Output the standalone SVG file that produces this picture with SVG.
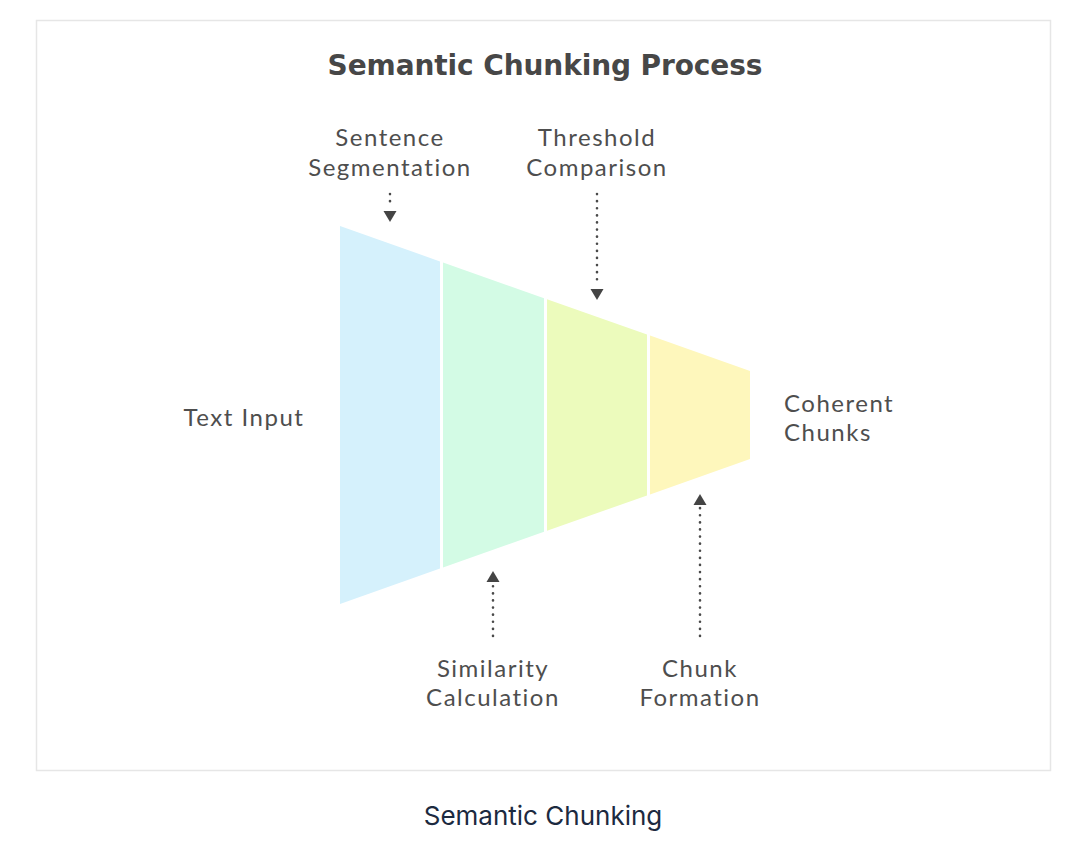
<svg xmlns="http://www.w3.org/2000/svg" width="1080" height="845" viewBox="0 0 1080 845">
<style>
.lbl{font-family:"Lato","Open Sans",sans-serif;font-size:24px;letter-spacing:1.5px;fill:#4e4e4e;}
.c{text-anchor:middle;}
.title{font-family:"DejaVu Sans",sans-serif;font-size:28px;font-weight:bold;letter-spacing:-0.1px;fill:#474747;text-anchor:middle;}
.cap{font-family:"Inter","Lato",sans-serif;font-size:26px;fill:#1c2a40;text-anchor:middle;}
.dot{stroke:#4a4a4a;stroke-width:2.6;stroke-dasharray:0.1 7;stroke-linecap:round;fill:none;}
.ah{fill:#444;}
</style>
<rect x="0" y="0" width="1080" height="845" fill="#ffffff"/>
<rect x="36.5" y="20.5" width="1014" height="750" fill="#ffffff" stroke="#e6e6e6" stroke-width="1.5"/>
<text class="title" x="545" y="75">Semantic Chunking Process</text>
<g id="funnel">
<polygon id="seg-text-input" points="340,226 440,261.4 440,568.6 340,604" fill="#d5f1fc"/>
<polygon id="seg-similarity" points="443,262.5 544,298.2 544,531.8 443,567.5" fill="#d3fbe5"/>
<polygon id="seg-threshold" points="547,299.2 647,334.6 647,495.4 547,530.8" fill="#ecfbbc"/>
<polygon id="seg-chunk" points="650,335.6 750,371 750,459 650,494.4" fill="#fef7bc"/>
</g>
<g id="connectors">
<line class="dot" x1="390" y1="194" x2="390" y2="208"/>
<path class="ah" d="M383.5,211 L396.5,211 L390,222 Z"/>
<line class="dot" x1="597" y1="194" x2="597" y2="285"/>
<path class="ah" d="M590.5,289 L603.5,289 L597,300 Z"/>
<line class="dot" x1="493" y1="636" x2="493" y2="585"/>
<path class="ah" d="M486.5,582 L499.5,582 L493,571 Z"/>
<line class="dot" x1="700" y1="636" x2="700" y2="508"/>
<path class="ah" d="M693.5,505 L706.5,505 L700,494 Z"/>
</g>
<g id="n-sentence"><text class="lbl c" x="390" y="146">Sentence</text><text class="lbl c" x="390" y="176">Segmentation</text></g>
<g id="n-threshold"><text class="lbl c" x="597" y="146">Threshold</text><text class="lbl c" x="597" y="176">Comparison</text></g>
<g id="n-text-input"><text class="lbl c" x="244" y="426">Text Input</text></g>
<g id="n-coherent"><text class="lbl" x="784" y="412">Coherent</text><text class="lbl" x="784" y="441">Chunks</text></g>
<g id="n-similarity"><text class="lbl c" x="493" y="677">Similarity</text><text class="lbl c" x="493" y="706">Calculation</text></g>
<g id="n-chunk"><text class="lbl c" x="700" y="677">Chunk</text><text class="lbl c" x="700" y="706">Formation</text></g>
<text class="cap" x="543" y="825">Semantic Chunking</text>
</svg>
